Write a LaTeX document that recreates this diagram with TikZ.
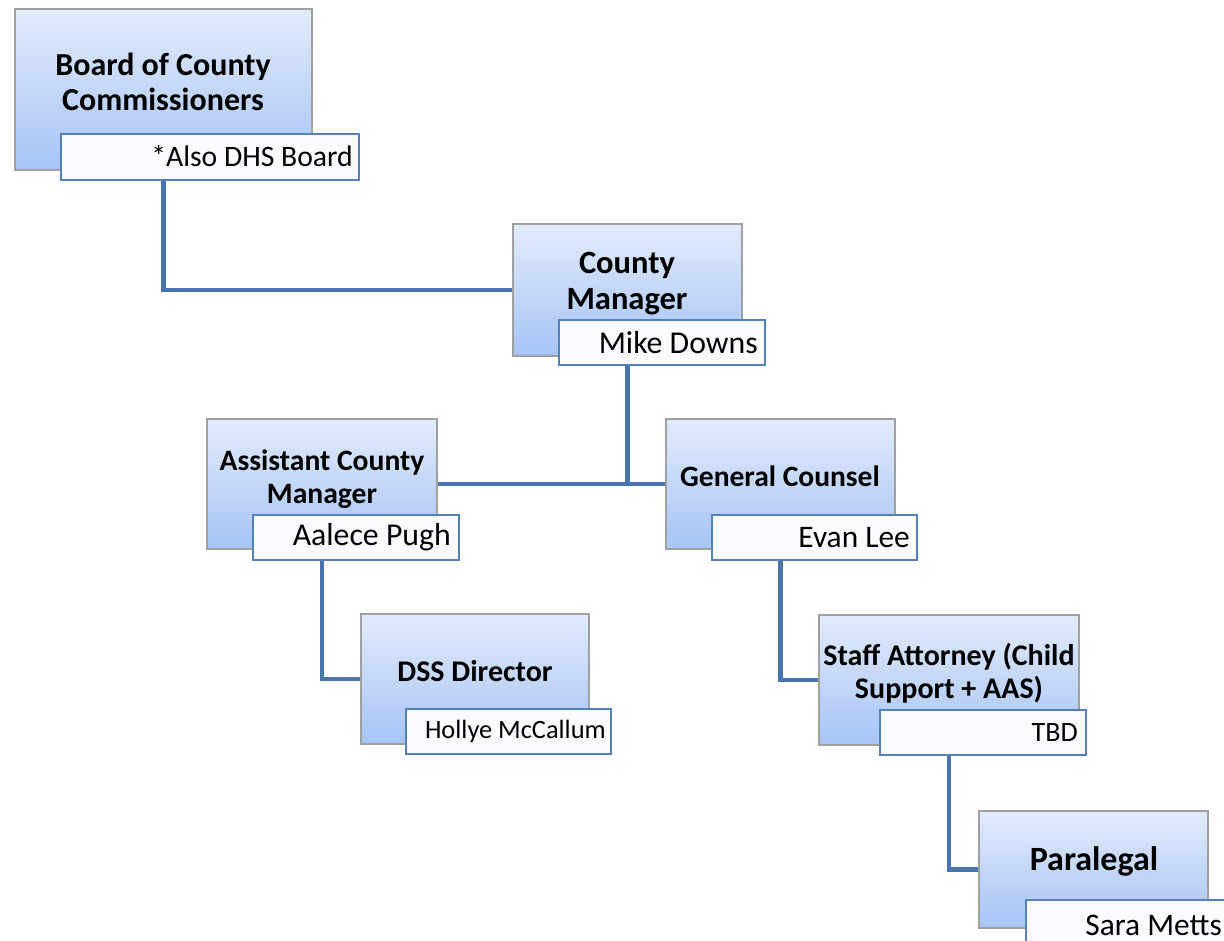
\documentclass[tikz,border=0pt]{standalone}
\usepackage{fontspec}
\setmainfont{Carlito}
\usetikzlibrary{backgrounds}
\definecolor{boxtop}{RGB}{226,235,252}
\definecolor{boxbot}{RGB}{166,196,245}
\definecolor{boxline}{RGB}{160,160,160}
\definecolor{subline}{RGB}{84,128,190}
\definecolor{subfill}{RGB}{249,251,255}
\definecolor{linkblue}{RGB}{74,116,174}
\begin{document}
\begin{tikzpicture}[x=1pt,y=-1pt,
  mainbox/.style={draw=boxline, line width=1.2pt, top color=boxtop, bottom color=boxbot, inner sep=0pt, outer sep=0pt, anchor=north west},
  subbox/.style={draw=subline, line width=1.5pt, fill=subfill, inner sep=0pt, outer sep=0pt, anchor=north west},
  title/.style={align=center, inner sep=0pt, font=\bfseries},
  subtext/.style={anchor=east, inner sep=0pt},
  link/.style={draw=linkblue, line width=4.5pt}]
\useasboundingbox (0,0) rectangle (1224,941);
\clip (0,0) rectangle (1224,941);

% main boxes
\node[mainbox, minimum width=297pt, minimum height=161pt] (b1) at (15,9) {};
\node[mainbox, minimum width=229pt, minimum height=132pt] (cm) at (513,224) {};
\node[mainbox, minimum width=230pt, minimum height=130pt] (acm) at (207,419) {};
\node[mainbox, minimum width=229pt, minimum height=130pt] (gc) at (666,419) {};
\node[mainbox, minimum width=228pt, minimum height=130pt] (dss) at (361,614) {};
\node[mainbox, minimum width=260pt, minimum height=130pt] (staff) at (819,615) {};
\node[mainbox, minimum width=229pt, minimum height=117pt] (para) at (979,811) {};

% titles
\node[title, font=\bfseries\fontsize{32}{35}\selectfont] (b1t) at (163,82) {Board of County\\Commissioners};
\node[title, font=\bfseries\fontsize{32.5}{36}\selectfont] (cmt) at (627,284) {County\\Manager};
\node[title, font=\bfseries\fontsize{29.6}{32.5}\selectfont] (acmt) at (322,479) {Assistant County\\Manager};
\node[title, font=\bfseries\fontsize{29.5}{33}\selectfont] (gct) at (780,476) {General Counsel};
\node[title, font=\bfseries\fontsize{30}{33}\selectfont] (dsst) at (475,671) {DSS Director};
\node[title, font=\bfseries\fontsize{30}{32.5}\selectfont] (stafft) at (949,673) {Staff Attorney (Child\\Support + AAS)};
\node[title, font=\bfseries\fontsize{34}{38}\selectfont] (parat) at (1094,861) {Paralegal};

% sub boxes
\node[subbox, minimum width=298pt, minimum height=46pt] (b1s) at (61,134) {};
\node[subbox, minimum width=206pt, minimum height=45pt] (cms) at (559,320) {};
\node[subbox, minimum width=206pt, minimum height=45pt] (acms) at (253,515) {};
\node[subbox, minimum width=205pt, minimum height=45pt] (gcs) at (712,515) {};
\node[subbox, minimum width=205pt, minimum height=45pt] (dsss) at (406,709) {};
\node[subbox, minimum width=206pt, minimum height=45pt] (staffs) at (880,710) {};
\node[subbox, minimum width=220pt, minimum height=60pt] (paras) at (1026,900) {};

% sub texts
\node[subtext, font=\fontsize{29.7}{32}\selectfont] (b1n) at ([xshift=-6pt,yshift=1pt]b1s.east) {*Also DHS Board};
\node[subtext, font=\fontsize{31.8}{34}\selectfont] (cmn) at ([xshift=-7pt]cms.east) {Mike Downs};
\node[subtext, font=\fontsize{31.8}{34}\selectfont] (acmn) at ([xshift=-8pt]acms.east) {Aalece Pugh};
\node[subtext, font=\fontsize{31.4}{34}\selectfont] (gcn) at ([xshift=-7pt]gcs.east) {Evan Lee};
\node[subtext, font=\fontsize{26.4}{30}\selectfont] (dssn) at ([xshift=-5pt]dsss.east) {Hollye McCallum};
\node[subtext, font=\fontsize{28}{31}\selectfont] (staffn) at ([xshift=-8pt]staffs.east) {TBD};
\node[subtext, font=\fontsize{31.4}{34}\selectfont] (paran) at (1222,925) {Sara Metts};

% connectors
\begin{pgfonlayer}{background}
\fill[white] (0,0) rectangle (1224,941);
\draw[link] (b1.center) |- (cm.west);
\draw[link] (cm.center) -- (cm.center |- acm.east);
\draw[link] (acm.east) -- (gc.west);
\draw[link] (acm.center) |- (dss.west);
\draw[link] (gc.center) |- (staff.west);
\draw[link] (staff.center) |- (para.west);
\end{pgfonlayer}
\end{tikzpicture}
\end{document}
